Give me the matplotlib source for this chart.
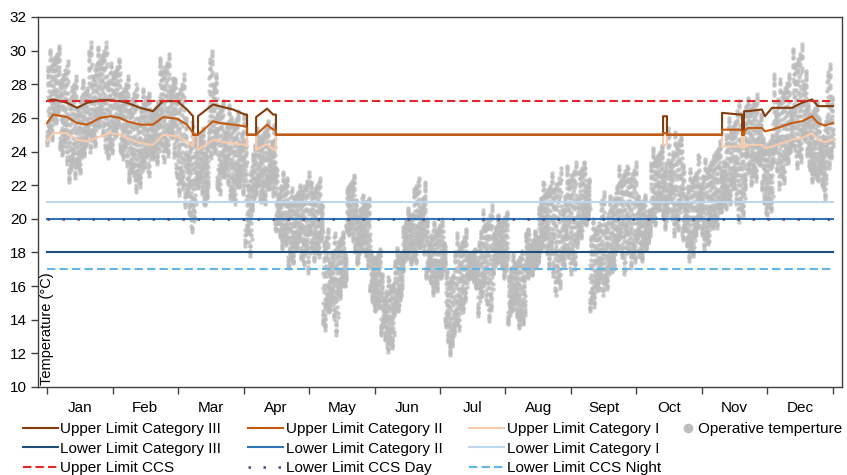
import numpy as np
import matplotlib.pyplot as plt
from matplotlib.lines import Line2D

plt.rcParams['font.family'] = ['Liberation Sans', 'DejaVu Sans']
plt.rcParams['font.size'] = 11

months = ['Jan', 'Feb', 'Mar', 'Apr', 'May', 'Jun',
          'Jul', 'Aug', 'Sept', 'Oct', 'Nov', 'Dec']
year_days = [0, 365]

# operative temperature, summarised per block of days (edges in day of year)
block_edges = [0, 6, 12, 19, 28, 34, 40, 48, 52, 59, 64, 69, 75, 79, 86, 92,
               95, 100, 106, 112, 118, 122, 128, 135, 139, 144, 150, 155, 161,
               165, 170, 176, 185, 189, 195, 200, 207, 214, 222, 228, 234, 241,
               247, 252, 257, 263, 269, 275, 280, 288, 295, 302, 310, 315, 320,
               325, 332, 337, 346, 353, 358, 362, 365]
block_high = [30.3, 29.4, 28.5, 30.5, 29.5, 28.5, 28.0, 27.0, 29.8, 28.6, 26.0,
              25.4, 30.0, 27.0, 26.4, 24.6, 25.6, 25.8, 23.0, 22.0, 22.8, 22.4,
              19.4, 19.2, 22.6, 21.6, 18.2, 16.7, 18.4, 20.8, 22.4, 20.0, 17.1,
              19.4, 18.2, 20.8, 20.4, 18.1, 19.4, 22.4, 23.0, 23.4, 23.4, 20.2,
              21.6, 23.4, 23.4, 21.4, 24.4, 25.4, 23.2, 23.8, 24.6, 26.2, 27.0,
              27.4, 25.0, 28.6, 30.4, 27.0, 26.0, 29.2]
block_low = [24.4, 22.2, 22.4, 24.0, 23.6, 22.2, 21.6, 22.6, 23.4, 21.4, 19.2,
             20.8, 23.6, 21.2, 20.6, 16.6, 20.2, 20.6, 18.2, 17.1, 15.7, 17.5,
             13.1, 15.1, 18.0, 17.1, 14.5, 12.1, 14.3, 16.7, 17.1, 15.5, 11.9,
             13.1, 15.9, 13.9, 16.5, 13.5, 16.5, 17.1, 15.5, 16.7, 18.6, 14.5,
             15.5, 16.7, 17.1, 17.3, 19.4, 19.0, 17.5, 18.2, 19.2, 20.6, 19.8,
             22.0, 20.2, 21.8, 23.0, 22.2, 21.2, 23.0]
# share of the block range covered by successive days
day_span_low = [0.0, 0.22, 0.1, 0.32, 0.05, 0.15, 0.27]
day_span_high = [0.78, 1.0, 0.88, 0.96, 0.68, 0.92, 0.84]
# position of each hour within the day's low..high range
hour_profile = [0.16, 0.11, 0.06, 0.03, 0.0, 0.04, 0.12, 0.26, 0.44, 0.62,
                0.77, 0.88, 0.95, 1.0, 0.97, 0.9, 0.8, 0.69, 0.58, 0.48,
                0.39, 0.31, 0.25, 0.2]

# upper limits: adaptive in the heating season, 25 °C otherwise
limit_day = [0.0, 2.8, 9.3, 13.9, 18.6, 24.6, 29.3, 33.9, 37.2, 43.2, 49.2,
             53.9, 60.4, 65.0, 67.8, 67.8, 70.1, 70.1, 77.1, 80.0, 86.4, 91.9,
             92.9, 92.9, 97.1, 97.1, 102.2, 105.0, 106.3, 106.3, 286.1, 286.1,
             287.9, 287.9, 313.5, 313.5, 321.8, 322.8, 322.8, 323.7, 323.7,
             325.5, 332.0, 333.4, 336.7, 346.0, 350.6, 355.3, 358.0, 361.3, 365.0]
upper_cat3 = [27.0, 27.1, 26.9, 26.6, 26.9, 27.05, 27.05, 27.0, 26.9, 26.6, 26.4,
              27.0, 27.0, 26.5, 26.1, 25.0, 25.0, 26.1, 26.8, 26.7, 26.5, 26.2,
              26.2, 25.0, 25.0, 26.05, 26.55, 26.2, 26.2, 25.0, 25.0, 26.1,
              26.1, 25.0, 25.0, 26.3, 26.2, 26.2, 25.0, 25.0, 26.4,
              26.4, 26.5, 26.1, 26.6, 26.6, 26.9, 27.1, 26.7, 26.7, 26.7]
upper_cat2 = [25.7, 26.2, 26.05, 25.7, 25.6, 26.0, 26.1, 26.0, 25.8, 25.6, 25.6,
              26.05, 25.95, 25.6, 25.1, 25.0, 25.0, 25.0, 25.8, 25.7, 25.6, 25.5,
              25.4, 25.0, 25.0, 25.0, 25.6, 25.3, 25.3, 25.0, 25.0, 25.1,
              25.1, 25.0, 25.0, 25.3, 25.3, 25.2, 25.0, 25.0, 25.2,
              25.4, 25.4, 25.2, 25.3, 25.7, 25.8, 26.1, 25.7, 25.55, 25.7]
upper_cat1 = [24.6, 25.1, 25.1, 24.7, 24.6, 24.9, 25.1, 25.0, 24.8, 24.5, 24.4,
              25.0, 24.9, 24.6, 24.3, 25.0, 25.0, 24.1, 24.7, 24.6, 24.5, 24.4,
              24.3, 25.0, 25.0, 24.1, 24.45, 24.1, 24.1, 25.0, 25.0, 24.4,
              24.4, 25.0, 25.0, 24.3, 24.3, 24.2, 25.0, 25.0, 24.2,
              24.4, 24.4, 24.2, 24.3, 24.7, 24.8, 25.1, 24.7, 24.55, 24.7]

# fixed limits
lower_cat3 = 18
lower_cat2 = 20
lower_cat1 = 21
upper_ccs = 27
lower_ccs_day = 20
lower_ccs_night = 17

# hourly points
op_x, op_y = [], []
n_span = len(day_span_low)
for start, end, hi, lo in zip(block_edges[:-1], block_edges[1:], block_high, block_low):
    for j, d in enumerate(range(start, end)):
        d_lo = lo + (hi - lo) * day_span_low[(d + j) % n_span]
        d_hi = lo + (hi - lo) * day_span_high[(d + 2 * j) % n_span]
        for h, f in enumerate(hour_profile):
            op_x.append(d + h / 24)
            op_y.append(d_lo + (d_hi - d_lo) * f)

fig = plt.figure(figsize=(8.47, 4.75), dpi=100)
ax = fig.add_axes([38 / 847, 1 - 387 / 475, 804 / 847, 370 / 475])

ax.scatter(op_x, op_y, s=10, color='#BBBBBB', alpha=0.8, linewidths=0, zorder=1)

lw = 1.5
l_up1, = ax.plot(limit_day, upper_cat1, color='#F8CBAD', lw=lw, zorder=3)
l_up3, = ax.plot(limit_day, upper_cat3, color='#843C0C', lw=lw, zorder=3)
l_up2, = ax.plot(limit_day, upper_cat2, color='#C55A11', lw=lw, zorder=4)
l_lo1, = ax.plot(year_days, [lower_cat1] * 2, color='#BDD7EE', lw=lw, zorder=3)
l_lo2, = ax.plot(year_days, [lower_cat2] * 2, color='#2E75B6', lw=lw, zorder=3)
l_lo3, = ax.plot(year_days, [lower_cat3] * 2, color='#1F4E79', lw=lw, zorder=3)
l_ccs, = ax.plot(year_days, [upper_ccs] * 2, color='#E3262A', lw=lw,
                 ls=(0, (4, 2)), zorder=5)
l_day, = ax.plot(year_days, [lower_ccs_day] * 2, color='#3E4C86', lw=1.8,
                 ls=(0, (1, 5)), zorder=5)
l_night, = ax.plot(year_days, [lower_ccs_night] * 2, color='#62B6E6', lw=lw,
                   ls=(0, (4, 2)), zorder=5)

ax.set_xlim(-4.2, 369.2)
ax.set_ylim(10, 32)
ax.set_yticks(np.arange(10, 33, 2))
month_len = 365 / 12
ax.set_xticks([k * month_len for k in range(13)])
ax.set_xticklabels([])
ax.set_xticks([(k + 0.5) * month_len for k in range(12)], minor=True)
ax.set_xticklabels(months, minor=True)
ax.tick_params(axis='x', which='major', direction='out', length=5, width=1, color='#404040')
ax.tick_params(axis='x', which='minor', length=0, pad=10)
ax.tick_params(axis='y', direction='out', length=5, width=1, color='#404040', pad=3)
for sp in ax.spines.values():
    sp.set_color('#404040')
    sp.set_linewidth(1.0)

ax.text(0.003, 0.005, 'Temperature (°C)', rotation=90, ha='left', va='bottom',
        transform=ax.transAxes, fontsize=10.5)

leg = fig.legend([l_up3, l_lo3, l_ccs, l_up2, l_lo2, l_day, l_up1, l_lo1, l_night],
                 ['Upper Limit Category III', 'Lower Limit Category III', 'Upper Limit CCS',
                  'Upper Limit Category II', 'Lower Limit Category II', 'Lower Limit CCS Day',
                  'Upper Limit Category I', 'Lower Limit Category I', 'Lower Limit CCS Night'],
                 ncol=3, loc='upper left', bbox_to_anchor=(23 / 847, 1 - 422 / 475),
                 frameon=False, borderpad=0, borderaxespad=0, handlelength=2.3,
                 handletextpad=0.15, labelspacing=0.36, columnspacing=1.75,
                 fontsize=11)
op_handle = Line2D([], [], ls='none', marker='o', markersize=7,
                   color='#BDBDBD', markeredgewidth=0)
fig.legend([op_handle], ['Operative temperture'], loc='upper left',
           bbox_to_anchor=(680 / 847, 1 - 422 / 475), frameon=False,
           borderpad=0, borderaxespad=0, handlelength=1.0, handletextpad=0.2,
           fontsize=11)

fig.savefig('out.png', dpi=100)
